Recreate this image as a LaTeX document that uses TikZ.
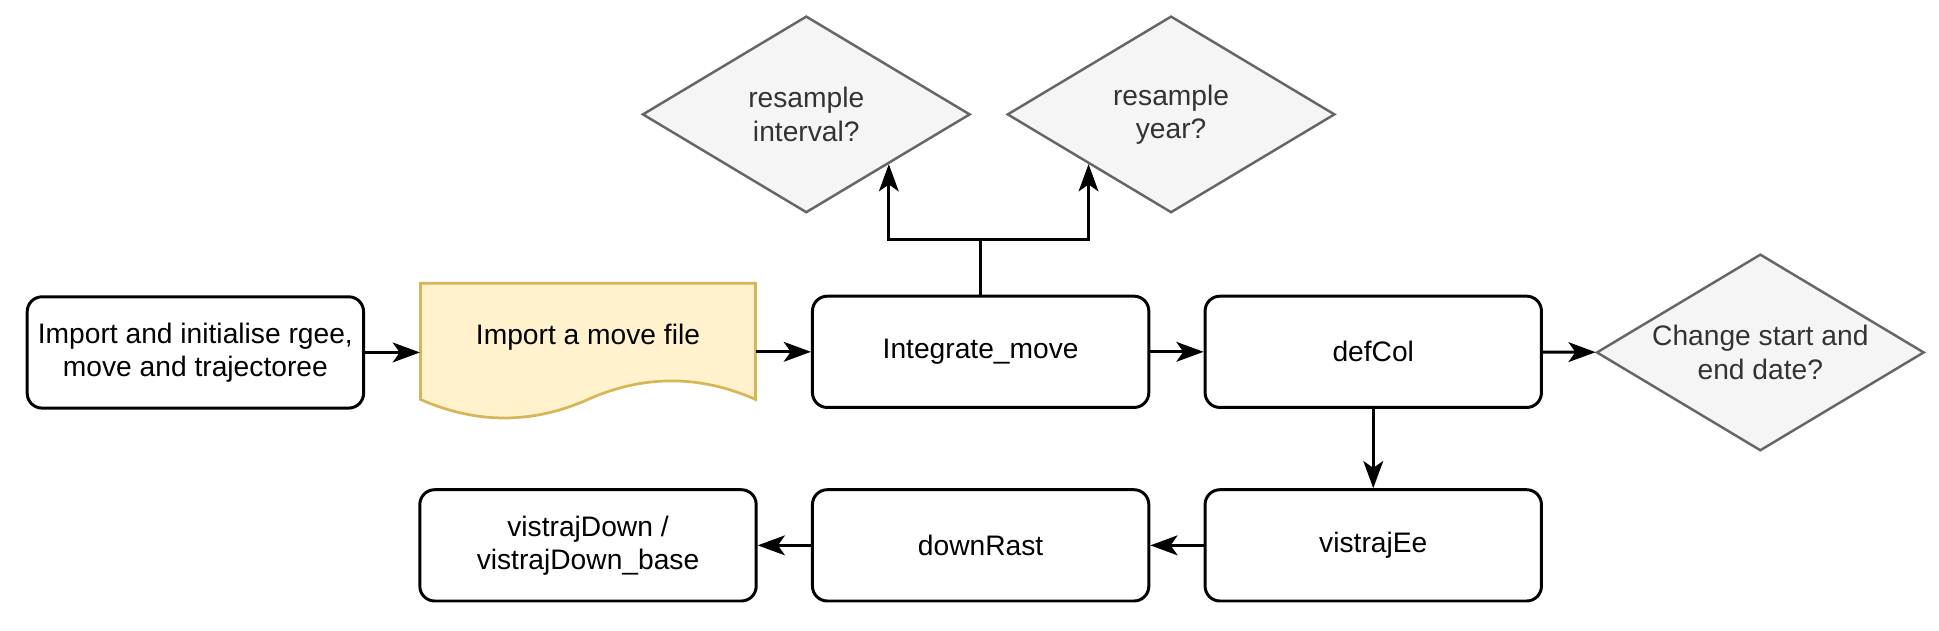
\documentclass[tikz,border=0pt]{standalone}
\usepackage{fontspec}
\setmainfont{Liberation Sans}
\usepackage{xcolor}
\usetikzlibrary{shapes.geometric,arrows.meta}
\definecolor{notefill}{RGB}{255,242,204}
\definecolor{notedraw}{RGB}{214,182,86}
\definecolor{askfill}{RGB}{245,245,245}
\definecolor{askdraw}{RGB}{102,102,102}
\definecolor{asktext}{RGB}{51,51,51}

\begin{document}
\begin{tikzpicture}[x=0.5pt, y=-0.5pt,
    font=\fontsize{11.4}{13.4}\selectfont,
    stepbox/.style={draw, line width=1.2pt, rounded corners=6pt, minimum width=136pt, minimum height=45pt, align=center},
    askbox/.style={diamond, aspect=1.67, draw=askdraw, fill=askfill, text=asktext, line width=1pt, minimum width=132.5pt, minimum height=79.5pt, inner sep=0pt, align=center},
    arr/.style={-{Stealth[length=11pt, width=8pt, inset=2.8pt]}, line width=1.2pt}]
    \useasboundingbox (0,0) rectangle (1568,510);
    % document shape behind the file node
    \filldraw[draw=notedraw, fill=notefill, line width=1.1pt] (340,229) -- (611,229) -- (611,323)
        .. controls (565.7,303) and (520.5,303) .. (475.5,323)
        .. controls (430.5,343) and (385.3,343) .. (340,323) -- cycle;
    \node[stepbox] (init) at (158,285) {Import and initialise rgee,\\move and trajectoree};
    \node[minimum width=135.5pt, minimum height=55.5pt, text height=8pt, text depth=14.3pt] (doc) at (475.5,284.5) {Import a move file};
    \node[stepbox] (integ) at (793,284.5) {Integrate\_move};
    \node[stepbox] (defcol) at (1110.5,284.5) {defCol};
    \node[askbox] (dates) at (1423.5,285) {Change start and\\end date?};
    \node[askbox] (interval) at (652,92.5) {resample\\interval?};
    \node[askbox] (year) at (947,92.5) {resample\\year?};
    \node[stepbox] (vistraj) at (1110.5,441) {vistrajEe};
    \node[stepbox] (down) at (793,441) {downRast};
    \node[stepbox] (visdown) at (475.5,441) {vistrajDown /\\vistrajDown\_base};
    % connectors
    \draw[arr] (init) -- (init -| doc.west);
    \draw[arr] (doc.east |- integ) -- (integ);
    \draw[arr] (integ) -- (defcol);
    \draw[arr] (defcol) -- (dates);
    \draw[arr] (defcol) -- (vistraj);
    \draw[arr] (vistraj) -- (down);
    \draw[arr] (down) -- (visdown);
    \draw[line width=1.2pt] (integ.north) -- ++(0,-45) coordinate (fork);
    \draw[arr] (fork) -| (interval.south east);
    \draw[arr] (fork) -| (year.south west);
\end{tikzpicture}
\end{document}
